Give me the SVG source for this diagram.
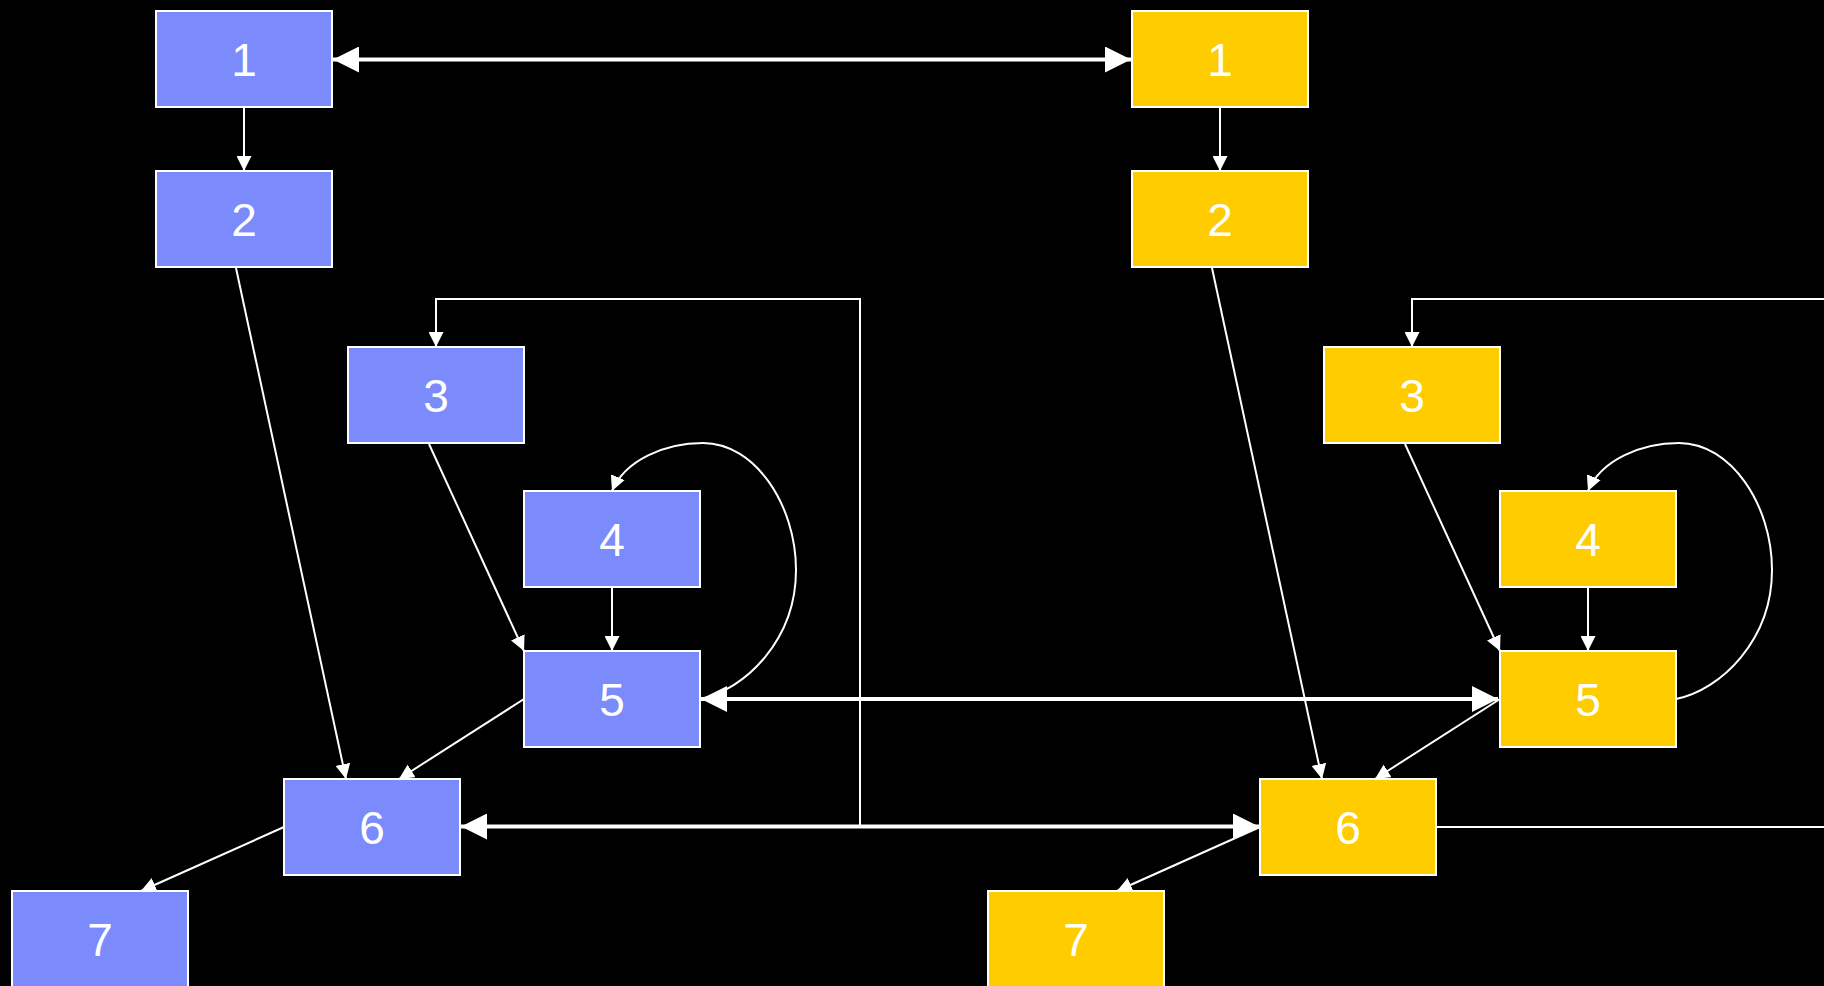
<svg xmlns="http://www.w3.org/2000/svg" width="1824" height="986" viewBox="0 0 1824 986">
  <defs>
    <style>
      .blue rect { fill: #7b8bfb; stroke: #ffffff; stroke-width: 2; }
      .yellow rect { fill: #ffcc00; stroke: #ffffff; stroke-width: 2; }
      .node text { fill: #ffffff; font-family: "Liberation Sans", Arial, sans-serif; font-size: 46px; text-anchor: middle; }
      .thin { fill: none; stroke: #ffffff; stroke-width: 2; marker-end: url(#small); }
      .thick { fill: none; stroke: #ffffff; stroke-width: 4; marker-start: url(#big); marker-end: url(#big); }
    </style>
    <marker id="small" markerUnits="userSpaceOnUse" markerWidth="15" markerHeight="15" refX="15" refY="7.5" orient="auto">
      <path d="M0,0 L15,7.5 L0,15 z" fill="#ffffff"/>
    </marker>
    <marker id="big" markerUnits="userSpaceOnUse" markerWidth="26" markerHeight="26" refX="26" refY="13" orient="auto-start-reverse">
      <path d="M0,0 L26,13 L0,26 z" fill="#ffffff"/>
    </marker>
  </defs>

  <rect x="0" y="0" width="1824" height="986" fill="#000000"/>

  <g id="connectors">
    <!-- left flow -->
    <path class="thin" d="M244,108 L244,171"/>
    <path class="thin" d="M236,268 L346,779"/>
    <path class="thin" d="M429,444 L524,651"/>
    <path class="thin" d="M612,588 L612,651"/>
    <path class="thin" d="M700,699 C745,690 796,640 796,570 C796,505 755,443 703,443 C665,443 625,460 612,491"/>
    <path class="thin" d="M524,699 L399,779"/>
    <path class="thin" d="M284,827 L141,891"/>
    <path class="thin" d="M460,827 L860,827 L860,299 L436,299 L436,347"/>

    <!-- right flow -->
    <path class="thin" d="M1220,108 L1220,171"/>
    <path class="thin" d="M1212,268 L1322,779"/>
    <path class="thin" d="M1405,444 L1500,651"/>
    <path class="thin" d="M1588,588 L1588,651"/>
    <path class="thin" d="M1676,699 C1721,690 1772,640 1772,570 C1772,505 1731,443 1679,443 C1641,443 1601,460 1588,491"/>
    <path class="thin" d="M1500,699 L1375,779"/>
    <path class="thin" d="M1260,827 L1117,891"/>
    <path class="thin" d="M1436,827 L1836,827 L1836,299 L1412,299 L1412,347"/>

    <!-- links between the two flows -->
    <path class="thick" d="M333,59.5 L1131,59.5"/>
    <path class="thick" d="M701,699 L1498,699"/>
    <path class="thick" d="M461,826.5 L1259,826.5"/>
  </g>

  <!-- left flow nodes -->
  <g id="a1" class="node blue"><rect x="156" y="11" width="176" height="96"/><text x="244" y="76">1</text></g>
  <g id="a2" class="node blue"><rect x="156" y="171" width="176" height="96"/><text x="244" y="236">2</text></g>
  <g id="a3" class="node blue"><rect x="348" y="347" width="176" height="96"/><text x="436" y="412">3</text></g>
  <g id="a4" class="node blue"><rect x="524" y="491" width="176" height="96"/><text x="612" y="556">4</text></g>
  <g id="a5" class="node blue"><rect x="524" y="651" width="176" height="96"/><text x="612" y="716">5</text></g>
  <g id="a6" class="node blue"><rect x="284" y="779" width="176" height="96"/><text x="372" y="844">6</text></g>
  <g id="a7" class="node blue"><rect x="12" y="891" width="176" height="96"/><text x="100" y="956">7</text></g>

  <!-- right flow nodes -->
  <g id="b1" class="node yellow"><rect x="1132" y="11" width="176" height="96"/><text x="1220" y="76">1</text></g>
  <g id="b2" class="node yellow"><rect x="1132" y="171" width="176" height="96"/><text x="1220" y="236">2</text></g>
  <g id="b3" class="node yellow"><rect x="1324" y="347" width="176" height="96"/><text x="1412" y="412">3</text></g>
  <g id="b4" class="node yellow"><rect x="1500" y="491" width="176" height="96"/><text x="1588" y="556">4</text></g>
  <g id="b5" class="node yellow"><rect x="1500" y="651" width="176" height="96"/><text x="1588" y="716">5</text></g>
  <g id="b6" class="node yellow"><rect x="1260" y="779" width="176" height="96"/><text x="1348" y="844">6</text></g>
  <g id="b7" class="node yellow"><rect x="988" y="891" width="176" height="96"/><text x="1076" y="956">7</text></g>
</svg>
